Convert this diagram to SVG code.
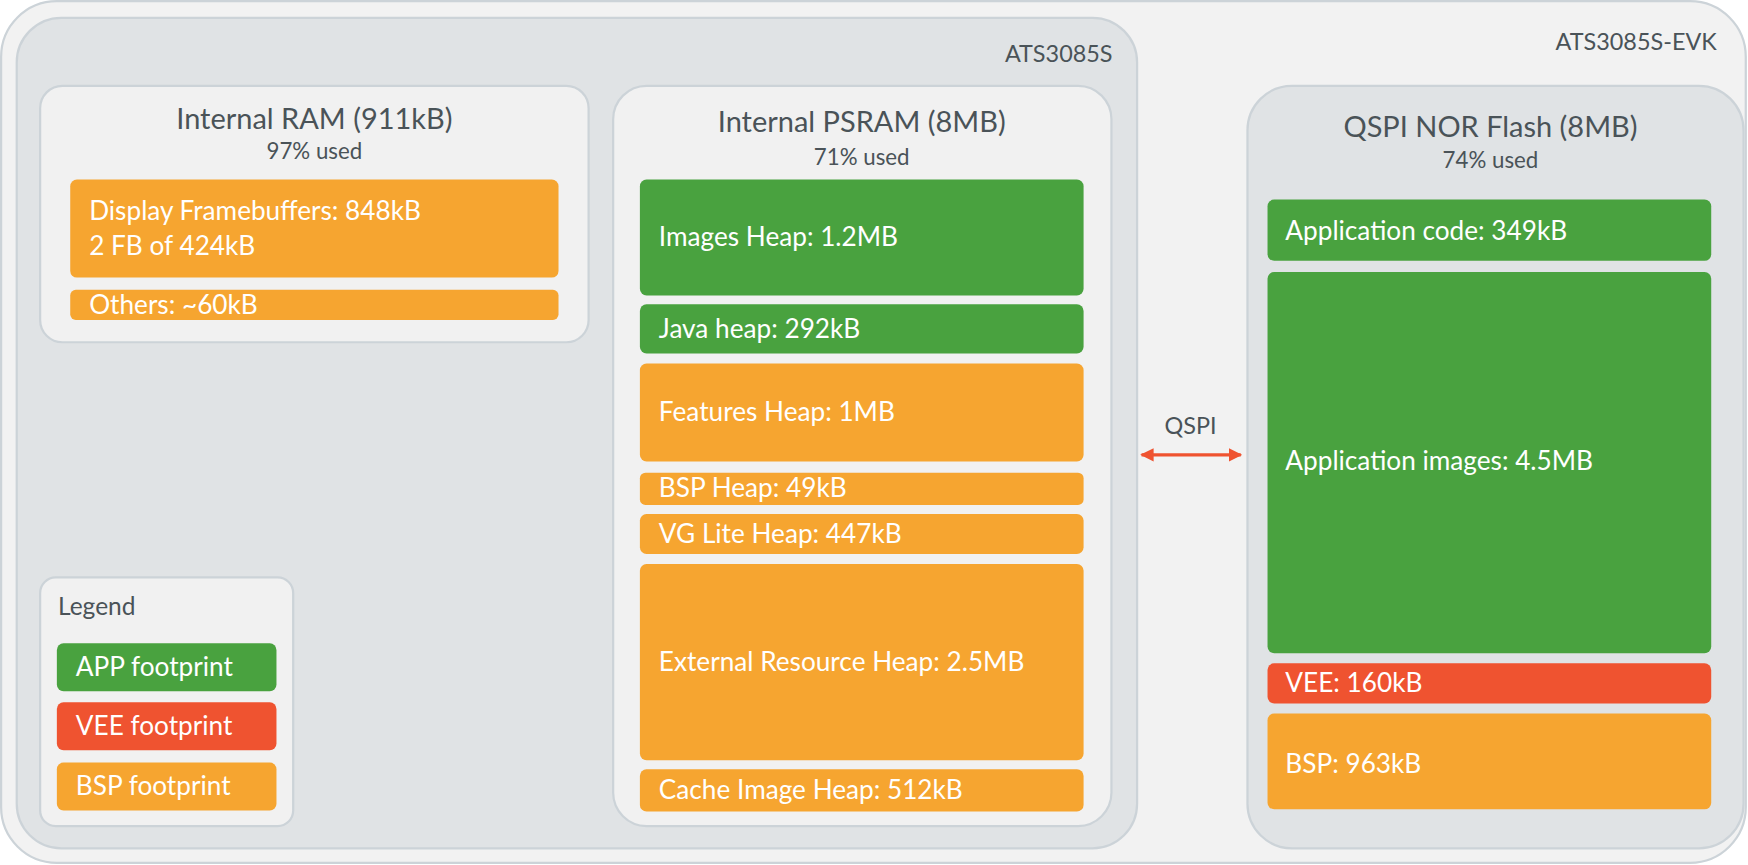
<svg xmlns="http://www.w3.org/2000/svg" width="1748" height="865" viewBox="0 0 1748 865">
<style>
.c{stroke:#ccd3d8;stroke-width:2}
.t{font-family:Lato,"Open Sans",sans-serif;fill:#4a5358}
.h{font-size:26px}
.s{font-size:20px}
.w{font-family:Lato,"Open Sans",sans-serif;fill:#fff;font-size:23.5px}
.g{fill:#49a23f}.o{fill:#f6a530}.r{fill:#ef5330}
</style>
<defs><marker id="a" viewBox="0 0 10 10" refX="9" refY="5" markerWidth="4" markerHeight="4" orient="auto-start-reverse"><path d="M0,0L10,5L0,10z" fill="#ef5330"/></marker></defs>
<rect width="1748" height="865" fill="#fff"/>
<g transform="scale(1.1148)">
<g id="evk"><rect x="1" y="1" width="1565" height="773" rx="50" fill="#f2f2f2" class="c"/><text class="t" x="1540" y="45" font-size="21" text-anchor="end">ATS3085S-EVK</text></g>
<g id="soc"><rect x="15" y="16" width="1005" height="745" rx="40" fill="#e0e3e5" class="c"/><text class="t" x="998" y="56" font-size="21" text-anchor="end">ATS3085S</text></g>
<g id="ram"><rect x="36" y="77" width="492" height="230" rx="20" fill="#f1f1f1" class="c"/>
<text class="t h" x="282" y="116" text-anchor="middle">Internal RAM (911kB)</text>
<text class="t s" x="282" y="143" text-anchor="middle">97% used</text>
<rect class="o" x="63" y="161" width="438" height="88" rx="6"/><text class="w" x="80" y="197">Display Framebuffers: 848kB</text><text class="w" x="80" y="229">2 FB of 424kB</text>
<rect class="o" x="63" y="260" width="438" height="27" rx="5"/><text class="w" x="80" y="282">Others: ~60kB</text></g>
<g id="psram"><rect x="550" y="77" width="447" height="664" rx="30" fill="#f1f1f1" class="c"/>
<text class="t h" x="773" y="118" text-anchor="middle">Internal PSRAM (8MB)</text>
<text class="t s" x="773" y="148" text-anchor="middle">71% used</text>
<rect class="g" x="574" y="161" width="398" height="104" rx="6"/><text class="w" x="591" y="221">Images Heap: 1.2MB</text>
<rect class="g" x="574" y="273" width="398" height="44" rx="6"/><text class="w" x="591" y="303">Java heap: 292kB</text>
<rect class="o" x="574" y="326" width="398" height="88" rx="6"/><text class="w" x="591" y="378">Features Heap: 1MB</text>
<rect class="o" x="574" y="424" width="398" height="29" rx="5"/><text class="w" x="591" y="446">BSP Heap: 49kB</text>
<rect class="o" x="574" y="461" width="398" height="36" rx="6"/><text class="w" x="591" y="487">VG Lite Heap: 447kB</text>
<rect class="o" x="574" y="506" width="398" height="176" rx="6"/><text class="w" x="591" y="602">External Resource Heap: 2.5MB</text>
<rect class="o" x="574" y="690" width="398" height="38" rx="6"/><text class="w" x="591" y="717">Cache Image Heap: 512kB</text></g>
<g id="flash"><rect x="1119" y="77" width="445" height="684" rx="40" fill="#e0e3e5" class="c"/>
<text class="t h" x="1337" y="123" text-anchor="middle">QSPI NOR Flash (8MB)</text>
<text class="t s" x="1337" y="151" text-anchor="middle">74% used</text>
<rect class="g" x="1137" y="179" width="398" height="55" rx="6"/><text class="w" x="1153" y="215">Application code: 349kB</text>
<rect class="g" x="1137" y="244" width="398" height="342" rx="6"/><text class="w" x="1153" y="422">Application images: 4.5MB</text>
<rect class="r" x="1137" y="595" width="398" height="36" rx="6"/><text class="w" x="1153" y="621">VEE: 160kB</text>
<rect class="o" x="1137" y="640" width="398" height="86" rx="6"/><text class="w" x="1153" y="693">BSP: 963kB</text></g>
<g id="legend"><rect x="36" y="518" width="227" height="223" rx="14" fill="#f1f1f1" class="c"/>
<text class="t" x="52" y="552" font-size="22">Legend</text>
<rect class="g" x="51" y="577" width="197" height="43" rx="6"/><text class="w" x="68" y="606">APP footprint</text>
<rect class="r" x="51" y="630" width="197" height="43" rx="6"/><text class="w" x="68" y="659">VEE footprint</text>
<rect class="o" x="51" y="684" width="197" height="43" rx="6"/><text class="w" x="68" y="713">BSP footprint</text></g>
<g id="connectors"><line x1="1024" y1="408" x2="1113" y2="408" stroke="#ef5330" stroke-width="3" marker-start="url(#a)" marker-end="url(#a)"/>
<text class="t" x="1068" y="389" font-size="21" text-anchor="middle">QSPI</text></g>
</g>
</svg>
